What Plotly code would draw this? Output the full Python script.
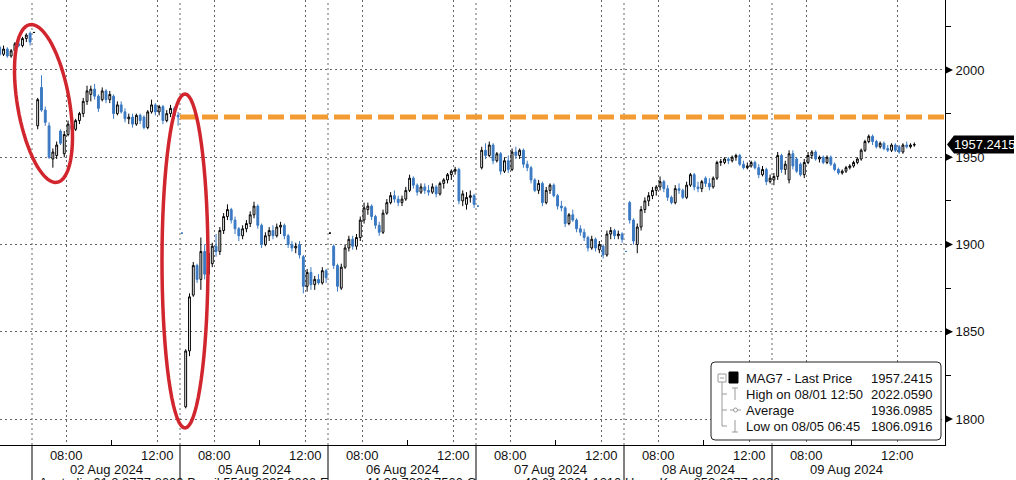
import math
import plotly.graph_objects as go

# ---------------- data (10-minute bars, open/high/low/close) ----------------
day_labels = ["01 Aug 2024", "02 Aug 2024", "05 Aug 2024", "06 Aug 2024",
              "07 Aug 2024", "08 Aug 2024", "09 Aug 2024"]
first_bar = [30, 0, 0, 0, 0, 0, 0]          # index of first bar shown per day
session_hours = 6.5                          # 06:30 - 13:00
bar_minutes = 10

aug01 = [(2013, 2014, 2008, 2009), (2009, 2014, 2008, 2012), (2012, 2013, 2007, 2008),
         (2008, 2012, 2007, 2011), (2011, 2016, 2010, 2015), (2015, 2017, 2013, 2014),
         (2014, 2019, 2013, 2018), (2018, 2021, 2016, 2020), (2021, 2022.059, 2014, 2016)]

aug02 = [(2021.5, 2021.5, 2021.5, 2021.5), (1968, 1984, 1966, 1983), (1990, 1997, 1976, 1977),
         (1977, 1979, 1968, 1970), (1968, 1970, 1949, 1950), (1949, 1955, 1944, 1953),
         (1951, 1959, 1949, 1957), (1965, 1966, 1957, 1958), (1952, 1965, 1950, 1963),
         (1963, 1971, 1962, 1969), (1968, 1971, 1964, 1966), (1966, 1972, 1965, 1971),
         (1971, 1976, 1969, 1975), (1975, 1984, 1973, 1982), (1982, 1991, 1980, 1988),
         (1986, 1991, 1982, 1989), (1989, 1992, 1983, 1985), (1985, 1986, 1976, 1978),
         (1983, 1990, 1982, 1988), (1988, 1989, 1981, 1983), (1983, 1988, 1981, 1986),
         (1985, 1986, 1972, 1975), (1975, 1982, 1974, 1980), (1980, 1982, 1975, 1976),
         (1976, 1978, 1970, 1972), (1972, 1975, 1969, 1973), (1973, 1975, 1967, 1969),
         (1969, 1975, 1968, 1974), (1974, 1975, 1969, 1971), (1973, 1974, 1966, 1967),
         (1967, 1977, 1966, 1976), (1976, 1983, 1975, 1980), (1980, 1981, 1974, 1976),
         (1976, 1980, 1974, 1979), (1979, 1980, 1969, 1971), (1971, 1977, 1970, 1975),
         (1975, 1980, 1973, 1978), (1978, 1979, 1972, 1974), (1974, 1976, 1968, 1973.1)]

aug05 = [(1906.5, 1906.5, 1906.5, 1906.5), (1807, 1840, 1806.0916, 1839), (1839, 1872, 1836, 1870),
         (1871, 1890, 1870, 1888), (1888, 1889, 1878, 1880), (1880, 1904, 1874, 1896),
         (1896, 1900, 1880, 1883), (1883, 1898, 1878, 1895), (1889, 1901, 1887, 1899),
         (1899, 1906, 1893, 1896), (1896, 1910, 1894, 1908), (1908, 1918, 1906, 1916),
         (1916, 1923, 1914, 1920), (1920, 1921, 1912, 1914), (1914, 1916, 1906, 1909),
         (1909, 1910, 1902, 1905), (1905, 1911, 1903, 1909), (1909, 1914, 1907, 1912),
         (1912, 1919, 1910, 1917), (1917, 1924.5, 1915, 1922), (1922, 1923, 1909, 1911),
         (1911, 1912, 1898, 1900), (1900, 1907, 1899, 1905), (1905, 1910, 1902, 1908),
         (1908, 1911, 1903, 1905), (1905, 1912, 1904, 1910), (1910, 1913, 1906, 1911),
         (1911, 1912, 1903, 1905), (1905, 1906, 1898, 1900), (1900, 1902, 1896, 1898),
         (1898, 1901, 1895, 1899), (1900, 1902, 1892, 1894), (1893, 1894, 1872, 1876),
         (1876, 1886, 1873, 1884), (1884, 1887, 1874, 1877), (1877, 1882, 1874, 1880),
         (1880, 1883, 1877, 1878), (1878, 1887, 1877, 1885), (1885, 1886, 1878, 1881)]

aug06 = [(1906.5, 1906.5, 1906.5, 1906.5), (1899, 1900, 1886, 1888), (1888, 1889, 1873, 1876),
         (1875, 1889, 1874, 1887), (1887, 1900, 1886, 1898), (1898, 1905, 1896, 1903),
         (1903, 1905, 1897, 1899), (1899, 1906, 1897, 1904), (1904, 1916, 1902, 1914),
         (1914, 1924, 1912, 1921), (1920, 1924, 1917, 1922), (1922, 1923, 1914, 1916),
         (1916, 1917, 1909, 1911), (1911, 1913, 1905, 1907), (1907, 1920, 1906, 1918),
         (1918, 1926, 1917, 1924), (1924, 1930, 1923, 1928), (1928, 1931, 1924, 1926),
         (1926, 1928, 1922, 1924), (1924, 1928, 1922, 1926), (1926, 1933, 1925, 1931),
         (1931, 1940, 1930, 1938), (1938, 1939, 1932, 1934), (1934, 1935, 1928, 1930),
         (1930, 1935, 1929, 1933), (1933, 1935, 1929, 1931), (1931, 1934, 1928, 1930),
         (1930, 1935, 1929, 1933), (1933, 1934, 1927, 1929), (1929, 1936, 1928, 1935),
         (1935, 1938, 1932, 1937), (1937, 1941, 1935, 1940), (1940, 1943, 1937, 1942),
         (1942, 1944.5, 1940, 1943), (1943, 1944, 1923, 1925), (1925, 1931, 1922, 1929),
         (1923, 1930, 1920, 1927), (1927, 1931, 1924, 1928), (1928, 1929, 1921, 1923)]

aug07 = [(1922, 1922, 1922, 1922), (1944, 1956, 1943, 1954), (1954, 1958, 1949, 1951),
         (1951, 1959, 1950, 1957), (1957, 1958, 1946, 1948), (1948, 1953, 1947, 1952),
         (1952, 1953, 1940, 1942), (1942, 1950, 1941, 1948), (1948, 1951, 1941, 1943),
         (1943, 1955, 1942, 1953), (1953, 1956, 1949, 1951), (1951, 1955, 1949, 1954),
         (1954, 1955, 1944, 1946), (1946, 1948, 1942, 1944), (1944, 1945, 1935, 1937),
         (1937, 1938, 1930, 1931), (1931, 1937, 1929, 1935), (1935, 1936, 1922, 1924),
         (1924, 1933, 1923, 1931), (1931, 1935, 1929, 1934), (1934, 1935, 1927, 1928),
         (1928, 1929, 1920, 1922), (1922, 1925, 1919, 1921), (1921, 1922, 1910, 1912),
         (1912, 1918, 1911, 1917), (1917, 1920, 1913, 1914), (1914, 1915, 1907, 1909),
         (1909, 1911, 1905, 1907), (1907, 1909, 1902, 1904), (1904, 1905, 1896, 1898),
         (1898, 1905, 1897, 1903), (1903, 1904, 1896, 1898), (1897, 1902, 1895, 1900),
         (1899, 1900, 1892, 1894), (1894, 1908, 1893, 1906), (1906, 1910, 1903, 1908),
         (1908, 1909, 1903, 1905), (1905, 1908, 1903, 1906), (1906, 1907, 1901, 1903)]

aug08 = [(1896, 1896, 1896, 1896), (1924, 1925, 1912, 1914), (1914, 1915, 1900, 1902),
         (1900, 1912, 1895, 1910), (1910, 1922, 1908, 1920), (1920, 1927, 1918, 1925),
         (1925, 1930, 1922, 1928), (1928, 1933, 1926, 1931), (1931, 1934, 1928, 1933),
         (1933, 1939, 1931, 1936), (1936, 1937, 1930, 1932), (1932, 1934, 1925, 1927),
         (1927, 1928, 1923, 1924), (1924, 1934, 1923, 1932), (1932, 1935, 1929, 1931),
         (1931, 1932, 1926, 1927), (1927, 1936, 1926, 1934), (1934, 1941, 1933, 1940),
         (1940, 1941, 1931, 1933), (1933, 1936, 1930, 1932), (1932, 1937, 1930, 1936),
         (1938, 1939, 1933, 1935), (1935, 1938, 1931, 1933), (1933, 1939, 1932, 1938),
         (1938, 1948, 1937, 1947), (1947, 1949, 1945, 1947.5), (1947, 1950, 1946, 1949),
         (1949, 1950, 1946, 1948), (1948, 1951, 1947, 1950), (1950, 1952, 1948, 1951),
         (1951, 1952, 1945, 1946), (1946, 1948, 1943, 1944), (1944, 1947, 1943, 1945),
         (1945, 1948, 1944, 1947), (1947, 1948, 1943, 1944), (1944, 1946, 1938, 1940),
         (1940, 1945, 1939, 1943), (1943, 1944, 1934, 1936), (1936, 1940, 1935, 1938)]

aug09 = [(1937, 1941, 1934, 1939), (1939, 1953, 1937, 1951), (1951, 1952, 1941, 1943),
         (1943, 1948, 1940, 1946), (1937, 1954, 1935, 1952), (1952, 1954, 1943, 1945),
         (1949, 1950, 1941, 1942), (1946, 1947, 1939, 1940), (1940, 1949, 1938, 1947),
         (1947, 1953, 1946, 1951), (1951, 1954, 1949, 1953), (1953, 1954, 1948, 1949),
         (1949, 1951, 1947, 1950), (1950, 1951, 1946, 1947), (1947, 1951, 1946, 1950),
         (1950, 1951, 1945, 1946), (1946, 1947, 1942, 1943), (1943, 1944, 1940, 1941),
         (1941, 1943, 1940, 1942), (1942, 1945, 1941, 1944), (1944, 1946, 1943, 1945),
         (1945, 1948, 1944, 1947), (1947, 1950, 1946, 1949), (1949, 1955, 1948, 1954),
         (1954, 1960, 1953, 1959), (1959, 1963, 1958, 1962), (1962, 1963, 1957, 1959),
         (1959, 1960, 1955, 1956), (1956, 1959, 1955, 1958), (1958, 1959, 1954, 1955),
         (1955, 1957, 1953, 1954), (1954, 1958, 1953, 1957), (1957, 1958, 1953, 1954),
         (1956, 1957, 1952, 1953), (1953, 1958, 1952, 1957), (1957, 1959, 1955, 1956),
         (1956, 1958, 1955, 1957), (1957, 1958.5, 1956, 1957.2415)]

day_bars = [aug01, aug02, aug05, aug06, aug07, aug08, aug09]

y_ticks = [1800, 1850, 1900, 1950, 2000]
y_minor = [1825, 1875, 1925, 1975, 2025]
prev_close = aug02[-1][3]
last_price = aug09[-1][3]

legend_rows = [("MAG7 - Last Price", "1957.2415"),
               ("High on 08/01 12:50", "2022.0590"),
               ("Average", "1936.0985"),
               ("Low on 08/05 06:45", "1806.0916")]
footer = ("Australia 61 2 9777 8600 Brazil 5511 2395 9000 Europe 44 20 7330 7500 "
          "Germany 49 69 9204 1210 Hong Kong 852 2977 6000")

# ---------------- build series on a "trading hours" axis ----------------
xs, op, hi, lo, cl = [], [], [], [], []
for d, (bars, start) in enumerate(zip(day_bars, first_bar)):
    for k, (o_, h_, l_, c_) in enumerate(bars):
        i = start + k
        xs.append(d * session_hours + (i * bar_minutes + bar_minutes / 2) / 60)
        op.append(o_); hi.append(h_); lo.append(l_); cl.append(c_)

W, H = 1016, 480
ML, MR, MT, MB = 0, 71, 0, 35
PW, PH = W - ML - MR, H - MT - MB
px_per_hour = 148 / session_hours
x0 = session_hours - 32 / px_per_hour
x1 = x0 + PW / px_per_hour
y_lo, y_hi = 1785.1, 2040.1

def px(xp):
    return xp / PW

def py(yp):
    return 1 - yp / PH

BLUE = "#3a79c3"
FONT = "Liberation Sans"
TXT = "#111"

fig = go.Figure()
fig.add_trace(go.Candlestick(
    x=xs, open=op, high=hi, low=lo, close=cl,
    increasing=dict(line=dict(color="#000000", width=1), fillcolor="#ffffff"),
    decreasing=dict(line=dict(color=BLUE, width=1), fillcolor=BLUE),
    whiskerwidth=0, hoverinfo="skip", showlegend=False))

# previous close reference line (orange dashed)
fig.add_trace(go.Scatter(
    x=[session_hours * 2, x1], y=[prev_close, prev_close], mode="lines",
    line=dict(color="#F29B33", width=5, dash="16px,6px"),
    hoverinfo="skip", showlegend=False))

shapes = []
annotations = []
GRID = "#666"
GDASH = "2px,3px"

# day boundaries: dotted in plot, solid in label area
for d in range(1, len(day_labels)):
    xb = d * session_hours
    shapes.append(dict(type="line", xref="x", yref="paper", x0=xb, x1=xb, y0=0, y1=1,
                       line=dict(color=GRID, width=1, dash=GDASH), layer="below"))
    shapes.append(dict(type="line", xref="x", yref="paper", x0=xb, x1=xb, y0=0,
                       y1=-MB / PH, line=dict(color="#000", width=1)))
    annotations.append(dict(x=xb + session_hours / 2, y=-25 / PH, xref="x", yref="paper",
                            text=day_labels[d], showarrow=False, xanchor="center",
                            yanchor="middle", font=dict(family=FONT, size=13, color=TXT)))

# y tick arrows
for v in y_ticks:
    yy = 70 + (2000 - v) * 1.745
    shapes.append(dict(type="path", xref="paper", yref="paper",
                       path=f"M {px(946)},{py(yy-3.5)} L {px(953)},{py(yy)} L {px(946)},{py(yy+3.5)} Z",
                       fillcolor="#000", line=dict(width=0), layer="above"))

# red ellipses
def ellipse(cx, cy, a, b, tilt_deg):
    t = math.radians(tilt_deg)
    pts = []
    for k in range(73):
        ang = 2 * math.pi * k / 72
        ex = b * math.cos(ang)
        ey = a * math.sin(ang)
        rx = ex * math.cos(t) - ey * math.sin(t)
        ry = ex * math.sin(t) + ey * math.cos(t)
        pts.append((cx + rx, cy + ry))
    return "M " + " L ".join(f"{px(p[0])},{py(p[1])}" for p in pts) + " Z"

RED = "#D2262E"
shapes.append(dict(type="path", xref="paper", yref="paper", path=ellipse(43.5, 103.5, 80, 26, -9.8),
                   line=dict(color=RED, width=3.5), layer="above"))
shapes.append(dict(type="path", xref="paper", yref="paper", path=ellipse(185, 261, 167, 23, 0),
                   line=dict(color=RED, width=3.5), layer="above"))

# legend box
def rrect(xa, ya, xb, yb, r):
    return (f"M {px(xa+r)},{py(ya)} L {px(xb-r)},{py(ya)} Q {px(xb)},{py(ya)} {px(xb)},{py(ya+r)} "
            f"L {px(xb)},{py(yb-r)} Q {px(xb)},{py(yb)} {px(xb-r)},{py(yb)} "
            f"L {px(xa+r)},{py(yb)} Q {px(xa)},{py(yb)} {px(xa)},{py(yb-r)} "
            f"L {px(xa)},{py(ya+r)} Q {px(xa)},{py(ya)} {px(xa+r)},{py(ya)} Z")

shapes.append(dict(type="path", xref="paper", yref="paper", path=rrect(711, 362, 941, 440, 4),
                   fillcolor="#ffffff", line=dict(color="#222", width=1), layer="above"))
GRAY = "#9a9a9a"
def seg(xa, ya, xb, yb, color=GRAY, w=1):
    shapes.append(dict(type="line", xref="paper", yref="paper", x0=px(xa), y0=py(ya),
                       x1=px(xb), y1=py(yb), line=dict(color=color, width=w), layer="above"))
# tree
shapes.append(dict(type="rect", xref="paper", yref="paper", x0=px(718), y0=py(374), x1=px(726), y1=py(382),
                   line=dict(color=GRAY, width=1), fillcolor="#fff", layer="above"))
seg(720, 378, 724, 378)
seg(722, 382, 722, 426)
for yy in (394, 410, 426):
    seg(722, yy, 727, yy)
shapes.append(dict(type="rect", xref="paper", yref="paper", x0=px(729), y0=py(372), x1=px(738), y1=py(383),
                   line=dict(color="#000", width=1), fillcolor="#000", layer="above"))
seg(735, 388, 735, 400); seg(732, 388, 738, 388)
seg(730, 410, 741, 410)
shapes.append(dict(type="circle", xref="paper", yref="paper", x0=px(733.5), y0=py(408), x1=px(737.5), y1=py(412),
                   line=dict(color=GRAY, width=1), fillcolor="#fff", layer="above"))
seg(735, 420, 735, 432); seg(732, 432, 738, 432)

row_y = [378, 394, 410, 426]
for (label, val), yy in zip(legend_rows, row_y):
    annotations.append(dict(x=px(744), y=py(yy), xref="paper", yref="paper", text=label,
                            showarrow=False, xanchor="left", yanchor="middle",
                            font=dict(family=FONT, size=13, color=TXT)))
    annotations.append(dict(x=px(934), y=py(yy), xref="paper", yref="paper", text=val,
                            showarrow=False, xanchor="right", yanchor="middle",
                            font=dict(family=FONT, size=13, color=TXT)))

# last price tag
hh = 9 / 1.745
shapes.append(dict(type="path", xref="paper", yref="y",
                   path=(f"M {px(947)},{last_price} L {px(954)},{last_price+hh} L {px(1014)},{last_price+hh} "
                         f"L {px(1014)},{last_price-hh} L {px(954)},{last_price-hh} Z"),
                   fillcolor="#000", line=dict(width=0), layer="above"))
annotations.append(dict(x=px(984), y=last_price, xref="paper", yref="y", text=f"{last_price:.4f}",
                        showarrow=False, xanchor="center", yanchor="middle",
                        font=dict(family=FONT, size=13, color="#fff")))

# footer (cut off at page bottom)
annotations.append(dict(x=px(38), y=py(474), xref="paper", yref="paper", text=footer,
                        showarrow=False, xanchor="left", yanchor="top", borderpad=0,
                        font=dict(family=FONT, size=13, color=TXT)))

tick_x = []
tick_t = []
minor_x = []
for d in range(1, len(day_labels)):
    tick_x += [d * session_hours + 1.5, d * session_hours + 5.5]
    tick_t += ["08:00", "12:00"]
    minor_x.append(d * session_hours + 3.5)

fig.update_layout(
    width=W, height=H, margin=dict(l=ML, r=MR, t=MT, b=MB),
    paper_bgcolor="#fff", plot_bgcolor="#fff",
    font=dict(family=FONT, size=13, color=TXT),
    shapes=shapes, annotations=annotations, showlegend=False,
    xaxis=dict(range=[x0, x1], tickmode="array", tickvals=tick_x, ticktext=tick_t,
               showgrid=True, gridcolor=GRID, griddash=GDASH, gridwidth=1,
               showline=True, linecolor="#000", linewidth=1, ticks="", zeroline=False,
               ticklabelstandoff=-2,
               rangeslider=dict(visible=False),
               minor=dict(tickvals=minor_x, ticks="inside", ticklen=5, tickcolor="#000", showgrid=False),
               tickfont=dict(family=FONT, size=13, color=TXT)),
    yaxis=dict(range=[y_lo, y_hi], side="right", tickmode="array", tickvals=y_ticks,
               ticktext=[str(v) for v in y_ticks],
               showgrid=True, gridcolor=GRID, griddash=GDASH, gridwidth=1,
               showline=True, linecolor="#000", linewidth=1, zeroline=False,
               ticks="outside", ticklen=7, tickcolor="rgba(0,0,0,0)",
               minor=dict(tickvals=y_minor, ticks="outside", ticklen=5, tickcolor="#000", showgrid=False),
               tickfont=dict(family=FONT, size=13, color=TXT)),
)

fig.write_html("out.html", config={"displayModeBar": False, "staticPlot": True},
               post_script="document.body.style.margin='0';")
